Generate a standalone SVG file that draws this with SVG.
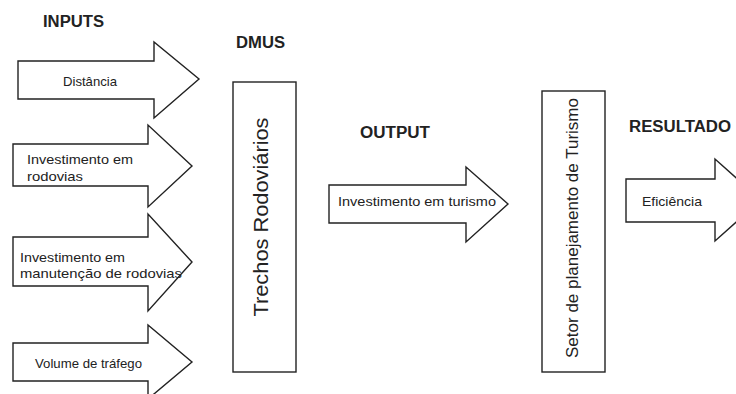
<svg xmlns="http://www.w3.org/2000/svg" width="736" height="394" viewBox="0 0 736 394">
<style>
.shape{fill:#fff;stroke:#222;stroke-width:1.4;stroke-linejoin:miter}
.lbl{font-family:"Liberation Sans",Arial,sans-serif;font-size:13px;fill:#222}
.hdr{font-family:"Liberation Sans",Arial,sans-serif;font-size:16px;font-weight:bold;fill:#222}
.vt{font-family:"Liberation Sans",Arial,sans-serif;fill:#222}
</style>
<rect width="736" height="394" fill="#fff"/>
<g id="headers">
<text class="hdr" x="43" y="27" textLength="61" lengthAdjust="spacingAndGlyphs">INPUTS</text>
<text class="hdr" x="236" y="48" textLength="49" lengthAdjust="spacingAndGlyphs">DMUS</text>
<text class="hdr" x="360" y="138" textLength="70" lengthAdjust="spacingAndGlyphs">OUTPUT</text>
<text class="hdr" x="629" y="132" textLength="102" lengthAdjust="spacingAndGlyphs">RESULTADO</text>
</g>
<g id="in-distancia">
<polygon class="shape" points="18,61 154,61 154,42 199,79 154,118 154,99 18,99"/>
<text class="lbl" x="63" y="86" textLength="54" lengthAdjust="spacingAndGlyphs">Distância</text>
</g>
<g id="in-invest-rodovias">
<polygon class="shape" points="13,144 148,144 148,125 192,166 148,207 148,186 13,186"/>
<text class="lbl" x="27" y="164" textLength="106" lengthAdjust="spacingAndGlyphs">Investimento em</text>
<text class="lbl" x="27" y="181" textLength="56" lengthAdjust="spacingAndGlyphs">rodovias</text>
</g>
<g id="in-invest-manutencao">
<polygon class="shape" points="13,237 148,237 148,214 192,262 148,311 148,286 13,286"/>
<text class="lbl" x="20" y="262" textLength="105" lengthAdjust="spacingAndGlyphs">Investimento em</text>
<text class="lbl" x="20" y="278" textLength="162" lengthAdjust="spacingAndGlyphs">manutenção de rodovias</text>
</g>
<g id="in-volume">
<polygon class="shape" points="13,343 148,343 148,325 192,362 148,399 148,381 13,381"/>
<text class="lbl" x="35" y="368" textLength="107" lengthAdjust="spacingAndGlyphs">Volume de tráfego</text>
</g>
<g id="dmu-trechos">
<rect class="shape" x="233" y="82" width="63" height="290"/>
<text class="vt" font-size="20" text-anchor="middle" transform="translate(268,217) rotate(-90)" textLength="199" lengthAdjust="spacingAndGlyphs">Trechos Rodoviários</text>
</g>
<g id="out-turismo">
<polygon class="shape" points="329,185 466,185 466,167 508,204 466,242 466,223 329,223"/>
<text class="lbl" x="338" y="206" textLength="158" lengthAdjust="spacingAndGlyphs">Investimento em turismo</text>
</g>
<g id="setor">
<rect class="shape" x="542" y="91" width="63" height="281"/>
<text class="vt" font-size="17" text-anchor="middle" transform="translate(578,228) rotate(-90)" textLength="260" lengthAdjust="spacingAndGlyphs">Setor de planejamento de Turismo</text>
</g>
<g id="res-eficiencia">
<polygon class="shape" points="626,179 715,179 715,159 761,200 715,241 715,222 626,222"/>
<text class="lbl" x="642" y="206" textLength="60" lengthAdjust="spacingAndGlyphs">Eficiência</text>
</g>
<g id="connectors"></g>
</svg>
